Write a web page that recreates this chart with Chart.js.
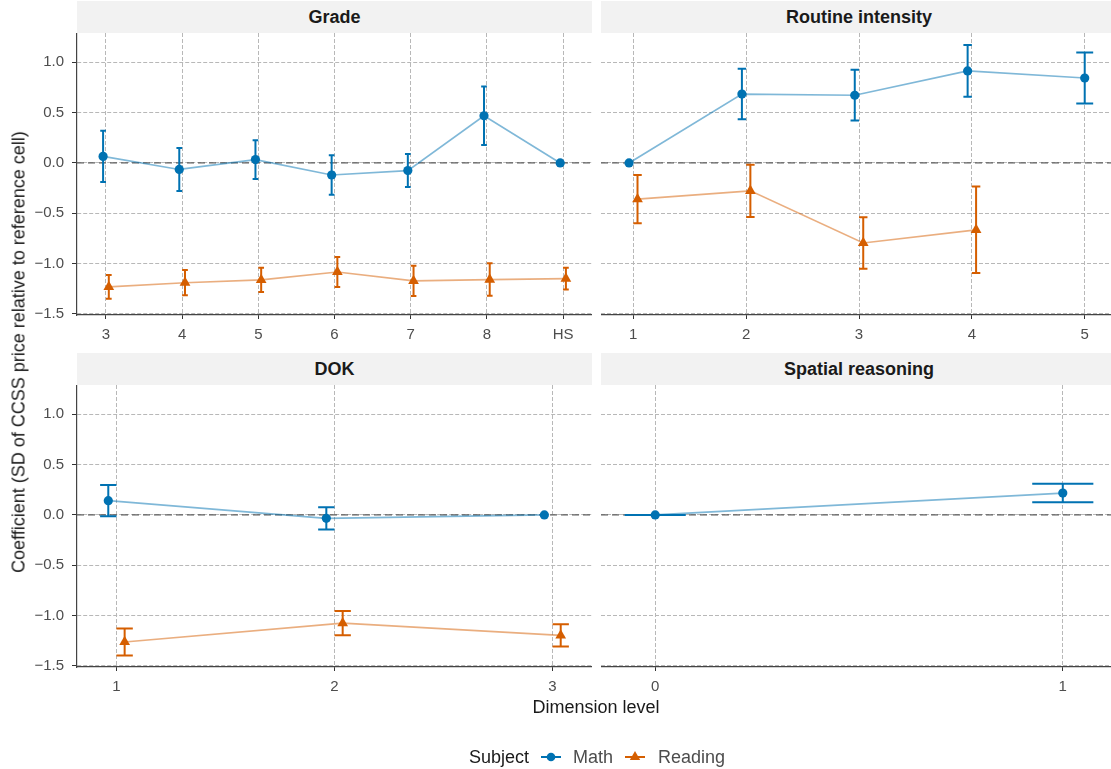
<!DOCTYPE html>
<html>
<head>
<meta charset="utf-8">
<title>Coefficient by dimension level</title>
<script src="https://cdn.jsdelivr.net/npm/chart.js@4.4.1/dist/chart.umd.min.js"></script>
<style>
  html, body { margin: 0; padding: 0; background: #ffffff; }
  body { width: 1111px; height: 769px; overflow: hidden; position: relative;
         font-family: 'Liberation Sans', Arial, sans-serif; }
  canvas { position: absolute; }
  .strip { position: absolute; background: #f2f2f2; color: #1a1a1a; font-weight: bold;
           font-size: 18px; display: flex; align-items: center; justify-content: center; }
  .ytitle { position: absolute; left: 19px; top: 352px; white-space: nowrap; font-size: 18px;
            color: #1a1a1a; transform: translate(-50%, -50%) rotate(-90deg); }
  .xtitle { position: absolute; left: 596px; top: 707px; white-space: nowrap; font-size: 18px;
            color: #1a1a1a; transform: translate(-50%, -50%); }
  .leg { position: absolute; top: 747px; height: 20px; line-height: 20px; font-size: 18px; white-space: nowrap; }
  .legkey { position: absolute; top: 747px; }
</style>
</head>
<body>

<div class="strip" style="left:77px; top:1px; width:515px; height:32px;">Grade</div>
<div class="strip" style="left:601px; top:1px; width:516px; height:32px;">Routine intensity</div>
<div class="strip" style="left:77px; top:353px; width:515px; height:32px;">DOK</div>
<div class="strip" style="left:601px; top:353px; width:516px; height:32px;">Spatial reasoning</div>

<canvas id="grade" width="572" height="317" style="left:20px; top:33px;"></canvas>
<canvas id="routine" width="516" height="317" style="left:601px; top:33px;"></canvas>
<canvas id="dok" width="572" height="317" style="left:20px; top:385px;"></canvas>
<canvas id="spatial" width="516" height="317" style="left:601px; top:385px;"></canvas>

<div class="ytitle">Coefficient (SD of CCSS price relative to reference cell)</div>
<div class="xtitle">Dimension level</div>

<div class="leg" style="left:469px; color:#1a1a1a;">Subject</div>
<svg class="legkey" style="left:540px;" width="22" height="20">
  <line x1="1" y1="10" x2="21" y2="10" stroke="#0072B2" stroke-width="2"/>
  <circle cx="11" cy="10" r="4.3" fill="#0072B2"/>
</svg>
<div class="leg" style="left:573px; color:#4d4d4d;">Math</div>
<svg class="legkey" style="left:624px;" width="22" height="20">
  <line x1="1" y1="10" x2="21" y2="10" stroke="#D55E00" stroke-width="2"/>
  <polygon points="11,4 16.2,13 5.8,13" fill="#D55E00"/>
</svg>
<div class="leg" style="left:658px; color:#4d4d4d;">Reading</div>

<script>
// ---- Grade ----
const gradeLabels = ['3', '4', '5', '6', '7', '8', 'HS'];
const gradeMath = [0.065, -0.065, 0.033, -0.12, -0.076, 0.468, 0];
const gradeMathLow = [-0.19, -0.278, -0.159, -0.315, -0.24, 0.179, null];
const gradeMathHigh = [0.32, 0.149, 0.225, 0.076, 0.089, 0.758, null];
const gradeReading = [-1.231, -1.19, -1.161, -1.083, -1.171, -1.158, -1.148];
const gradeReadingLow = [-1.349, -1.315, -1.282, -1.233, -1.322, -1.319, -1.256];
const gradeReadingHigh = [-1.113, -1.064, -1.04, -0.934, -1.02, -0.997, -1.04];

// ---- Routine intensity ----
const routineLabels = ['1', '2', '3', '4', '5'];
const routineMath = [0, 0.684, 0.672, 0.913, 0.843];
const routineMathLow = [null, 0.434, 0.42, 0.656, 0.59];
const routineMathHigh = [null, 0.934, 0.924, 1.17, 1.096];
const routineReading = [-0.36, -0.277, -0.795, -0.664, null];
const routineReadingLow = [-0.6, -0.537, -1.05, -1.093, null];
const routineReadingHigh = [-0.119, -0.017, -0.54, -0.235, null];

// ---- DOK ----
const dokLabels = ['1', '2', '3'];
const dokMath = [0.141, -0.034, 0];
const dokMathLow = [-0.013, -0.145, null];
const dokMathHigh = [0.296, 0.077, null];
const dokReading = [-1.262, -1.075, -1.196];
const dokReadingLow = [-1.397, -1.194, -1.307];
const dokReadingHigh = [-1.128, -0.955, -1.085];

// ---- Spatial reasoning (Math only) ----
const spatialLabels = ['0', '1'];
const spatialMath = [0, 0.217];
const spatialMathLow = [0, 0.126];
const spatialMathHigh = [0, 0.309];

// y axis ticks shared by every panel
const yTicks = [-1.5, -1.0, -0.5, 0.0, 0.5, 1.0];

const MATH_DARK = '#0072B2', MATH_LIGHT = 'rgba(0,114,178,0.5)';
const READ_DARK = '#D55E00', READ_LIGHT = 'rgba(213,94,0,0.5)';
const FONT = "'Liberation Sans', Arial, sans-serif";
const DODGE = 0.0375;

Chart.defaults.font.family = FONT;

function fmtY(v) {
  return v.toFixed(1).replace('-', '\u2212');
}

// fixed axis sizes; no extra room reserved for edge labels
function fixBox(s, size) {
  if (s.isHorizontal()) s.height = size; else s.width = size;
  s.paddingTop = 0; s.paddingBottom = 0; s.paddingLeft = 0; s.paddingRight = 0;
}

function buildPanel(canvasId, opts) {
  const { labels, values, xMin, xMax, math, reading, showY } = opts;
  const n = labels.length;
  const datasets = [];

  // dashed reference line at zero
  datasets.push({
    data: [{ x: xMin, y: 0 }, { x: xMax, y: 0 }],
    borderColor: '#5f5f5f', borderWidth: 1.4, borderDash: [7, 4],
    pointRadius: 0, order: 20
  });

  const seriesList = [
    { s: math, dark: MATH_DARK, light: MATH_LIGHT, side: -1, style: 'circle', r: 4.6 },
    { s: reading, dark: READ_DARK, light: READ_LIGHT, side: 1, style: 'triangle', r: 6.2 }
  ];

  seriesList.forEach(cfg => {
    if (!cfg.s) return;
    const { val, lo, hi } = cfg.s;
    const pts = [], stems = [], caps = [];
    for (let i = 0; i < n; i++) {
      if (val[i] == null) continue;
      const other = cfg.side < 0 ? reading : math;
      const both = other && other.val[i] != null;
      const x = values[i] + (both ? cfg.side * DODGE : 0);
      const half = both ? DODGE : 2 * DODGE;
      pts.push({ x: x, y: val[i] });
      if (lo[i] != null) {
        stems.push({ x: x, y: lo[i] }, { x: x, y: hi[i] }, { x: x, y: null });
        caps.push({ x: x - half, y: hi[i] }, { x: x + half, y: hi[i] }, { x: x, y: null },
                  { x: x - half, y: lo[i] }, { x: x + half, y: lo[i] }, { x: x, y: null });
      }
    }
    // connecting line
    datasets.push({ data: pts, borderColor: cfg.light, borderWidth: 1.7, pointRadius: 0, order: 10 });
    // error bars
    datasets.push({ data: stems, borderColor: cfg.dark, borderWidth: 2, pointRadius: 0, spanGaps: false, order: 5 });
    datasets.push({ data: caps, borderColor: cfg.dark, borderWidth: 2, pointRadius: 0, spanGaps: false, order: 5 });
    // markers
    datasets.push({
      data: pts, showLine: false, pointStyle: cfg.style, pointRadius: cfg.r,
      pointBackgroundColor: cfg.dark, pointBorderWidth: 0, borderColor: cfg.dark, order: 1
    });
  });

  return new Chart(document.getElementById(canvasId), {
    type: 'line',
    data: { datasets: datasets },
    options: {
      responsive: false,
      animation: false,
      devicePixelRatio: 1,
      events: [],
      layout: { padding: 0, autoPadding: false },
      plugins: { legend: { display: false }, tooltip: { enabled: false } },
      scales: {
        x: {
          type: 'linear', min: xMin, max: xMax,
          afterBuildTicks: s => { s.ticks = values.map(v => ({ value: v })); },
          afterFit: s => fixBox(s, 35),
          ticks: {
            autoSkip: false, maxRotation: 0, padding: 7, color: '#4d4d4d',
            font: { size: 15, family: FONT },
            callback: v => labels[values.indexOf(v)]
          },
          grid: { color: '#b8b8b8', lineWidth: 1, drawTicks: true, tickLength: 4, tickColor: '#333333', tickWidth: 1 },
          border: { display: true, color: '#444444', width: 1.2, dash: [4, 2] }
        },
        y: {
          type: 'linear', min: -1.51, max: 1.29,
          afterBuildTicks: s => { s.ticks = yTicks.map(v => ({ value: v })); },
          afterFit: s => fixBox(s, showY ? 57 : 0),
          ticks: {
            display: showY, padding: 8, color: '#4d4d4d',
            font: { size: 15, family: FONT },
            callback: v => fmtY(v)
          },
          grid: { color: '#b8b8b8', lineWidth: 1, drawTicks: showY, tickLength: 5, tickColor: '#333333', tickWidth: 1 },
          border: { display: showY, color: '#444444', width: 1.2, dash: [4, 2] }
        }
      }
    }
  });
}

buildPanel('grade', {
  labels: gradeLabels, values: gradeLabels.map((_, i) => i), xMin: -0.38, xMax: 6.38, showY: true,
  math: { val: gradeMath, lo: gradeMathLow, hi: gradeMathHigh },
  reading: { val: gradeReading, lo: gradeReadingLow, hi: gradeReadingHigh }
});

buildPanel('routine', {
  labels: routineLabels, values: routineLabels.map(Number), xMin: 0.714, xMax: 5.286, showY: false,
  math: { val: routineMath, lo: routineMathLow, hi: routineMathHigh },
  reading: { val: routineReading, lo: routineReadingLow, hi: routineReadingHigh }
});

buildPanel('dok', {
  labels: dokLabels, values: dokLabels.map(Number), xMin: 0.819, xMax: 3.181, showY: true,
  math: { val: dokMath, lo: dokMathLow, hi: dokMathHigh },
  reading: { val: dokReading, lo: dokReadingLow, hi: dokReadingHigh }
});

buildPanel('spatial', {
  labels: spatialLabels, values: spatialLabels.map(Number), xMin: -0.133, xMax: 1.133, showY: false,
  math: { val: spatialMath, lo: spatialMathLow, hi: spatialMathHigh },
  reading: null
});
</script>
</body>
</html>
